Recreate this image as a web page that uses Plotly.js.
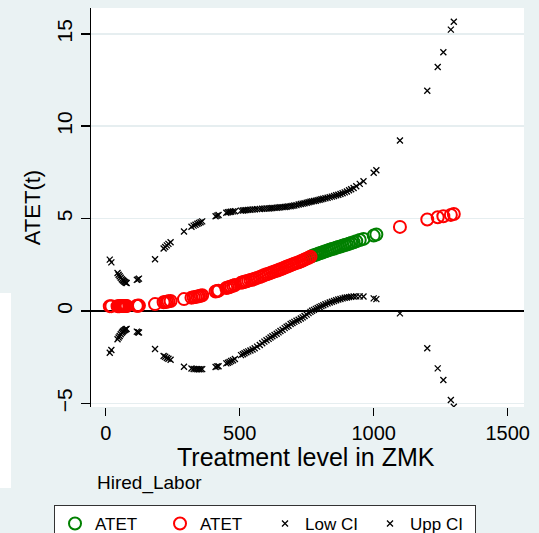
<!DOCTYPE html>
<html>
<head>
<meta charset="utf-8">
<script src="https://cdn.plot.ly/plotly-3.0.1.min.js"></script>
<style>html,body{margin:0;padding:0;background:#eaf2f3;}#chart{width:539px;height:533px;}</style>
</head>
<body>
<div id="chart"></div>
<script>
// Treatment levels (ZMK)
const treat = [15,21,44,48,52,56,60,63,66,69,72,75,78,116,120,124,184,216,222,228,234,242,292,
  320,328,335,342,348,354,360,410,416,421,450,456,462,468,475,482,505,512,518,525,532,540,548,556,
  565,575,584,592,600,608,615,622,630,638,645,652,660,668,675,682,690,697,704,712,720,728,735,742,750,757,764,
  770,777,784,791,798,805,812,820,828,836,844,852,860,868,876,884,892,900,908,916,925,935,948,962,1000,1010,
  1098,1200,1239,1260,1288,1299];
// ATET(t)
const atet = [0.26,0.26,0.26,0.26,0.26,0.27,0.27,0.27,0.27,0.27,0.27,0.27,0.27,0.28,0.28,0.29,0.37,0.47,0.49,0.50,0.52,0.54,0.64,
  0.72,0.74,0.76,0.78,0.80,0.82,0.85,1.05,1.08,1.10,1.24,1.27,1.30,1.33,1.36,1.40,1.52,1.55,1.58,1.61,1.64,1.67,1.70,1.74,
  1.79,1.84,1.89,1.94,1.98,2.02,2.06,2.10,2.14,2.18,2.22,2.26,2.30,2.35,2.39,2.43,2.48,2.52,2.56,2.60,2.64,2.69,2.73,2.78,2.83,2.88,2.93,
  2.97,3.01,3.04,3.08,3.12,3.15,3.19,3.23,3.27,3.31,3.35,3.38,3.42,3.46,3.49,3.53,3.57,3.60,3.64,3.68,3.72,3.77,3.84,3.90,4.08,4.14,
  4.55,4.95,5.07,5.13,5.20,5.25];
// Lower confidence limit
const lowCI = [-2.26,-2.11,-1.53,-1.44,-1.36,-1.26,-1.18,-1.13,-1.09,-1.05,-1.02,-0.99,-0.97,-1.12,-1.15,-1.17,-2.06,-2.44,-2.48,-2.55,-2.59,-2.64,-3.02,
  -3.12,-3.14,-3.15,-3.16,-3.16,-3.16,-3.15,-3.03,-3.00,-2.99,-2.84,-2.80,-2.76,-2.71,-2.67,-2.60,-2.39,-2.34,-2.29,-2.24,-2.19,-2.14,-2.09,-2.02,
  -1.93,-1.84,-1.75,-1.66,-1.59,-1.51,-1.44,-1.37,-1.30,-1.23,-1.16,-1.09,-1.02,-0.93,-0.86,-0.80,-0.71,-0.65,-0.59,-0.53,-0.48,-0.41,-0.35,-0.27,-0.20,-0.12,-0.05,
  0.01,0.06,0.11,0.16,0.21,0.26,0.31,0.36,0.41,0.46,0.50,0.54,0.58,0.62,0.65,0.68,0.71,0.73,0.75,0.77,0.78,0.79,0.79,0.78,0.68,0.64,
  -0.13,-2.02,-3.11,-3.74,-4.82,-5.19];
// Upper confidence limit
const uppCI = [2.78,2.63,2.05,1.96,1.88,1.80,1.72,1.67,1.63,1.59,1.56,1.53,1.51,1.68,1.71,1.75,2.80,3.38,3.46,3.55,3.63,3.72,4.30,
  4.56,4.62,4.67,4.72,4.76,4.80,4.85,5.13,5.16,5.19,5.32,5.34,5.36,5.37,5.39,5.40,5.43,5.44,5.45,5.46,5.47,5.48,5.49,5.50,
  5.51,5.52,5.53,5.54,5.55,5.55,5.56,5.57,5.58,5.59,5.60,5.61,5.62,5.63,5.64,5.66,5.67,5.69,5.71,5.73,5.76,5.79,5.81,5.83,5.86,5.88,5.91,
  5.93,5.95,5.97,6.00,6.02,6.05,6.07,6.10,6.13,6.16,6.19,6.22,6.26,6.29,6.33,6.37,6.42,6.47,6.53,6.59,6.66,6.75,6.88,7.02,7.48,7.62,
  9.23,11.92,13.21,14.00,15.23,15.66];

const legendNames = ['ATET', 'ATET', 'Low CI', 'Upp CI'];
const xTicks = [0, 500, 1000, 1500];
const yTicks = [-5, 0, 5, 10, 15];
const xTitle = 'Treatment level in ZMK';
const yTitle = 'ATET(t)';
const note = 'Hired_Labor';

const sigX = [], sigY = [], insX = [], insY = [];
treat.forEach((t, i) => {
  if (lowCI[i] > 0) { sigX.push(t); sigY.push(atet[i]); }
  else { insX.push(t); insY.push(atet[i]); }
});

const FONT = 'Arial, "Liberation Sans", sans-serif';
const circ = c => ({symbol: 'circle-open', size: 12, color: c, line: {color: c, width: 2}});
const cross = {symbol: 'x-thin-open', size: 6, color: '#000', line: {color: '#000', width: 1.3}};

const traces = [
  {x: sigX, y: sigY, type: 'scatter', mode: 'markers', name: legendNames[0], marker: circ('#008000')},
  {x: insX, y: insY, type: 'scatter', mode: 'markers', name: legendNames[1], marker: circ('#ff0000')},
  {x: treat, y: lowCI, type: 'scatter', mode: 'markers', name: legendNames[2], marker: cross},
  {x: treat, y: uppCI, type: 'scatter', mode: 'markers', name: legendNames[3], marker: cross}
];

const layout = {
  width: 539, height: 533,
  margin: {l: 91, r: 15, t: 8, b: 126},
  paper_bgcolor: '#eaf2f3',
  plot_bgcolor: '#ffffff',
  font: {family: FONT, color: '#000'},
  xaxis: {
    range: [-55, 1561], tickvals: xTicks, ticks: 'outside', ticklen: 8, tickwidth: 1.5, tickcolor: '#000',
    showline: false, showgrid: false, zeroline: false, automargin: false,
    tickfont: {size: 20, family: FONT, color: '#000'}
  },
  yaxis: {
    range: [-5.2, 16.4], tickvals: yTicks, ticks: 'outside', ticklen: 9, tickwidth: 1.5, tickcolor: '#000',
    showline: true, linecolor: '#000', linewidth: 1.5, automargin: false,
    showgrid: true, gridcolor: '#e6eef0', gridwidth: 1.5,
    zeroline: true, zerolinecolor: '#000', zerolinewidth: 2,
    tickangle: -90,
    tickfont: {size: 21, family: FONT, color: '#000'},
    title: {text: yTitle, font: {size: 22, family: FONT, color: '#000'}, standoff: 6}
  },
  showlegend: true,
  legend: {
    orientation: 'h', xref: 'container', yref: 'container',
    x: 0.1002, xanchor: 'left', y: 0.0525, yanchor: 'top',
    bgcolor: '#ffffff', bordercolor: '#333333', borderwidth: 1,
    font: {size: 17, family: FONT, color: '#000'},
    entrywidth: 60, itemsizing: 'trace'
  },
  annotations: [
    {
      text: xTitle, xref: 'paper', yref: 'paper', x: 0.497, y: -0.1265,
      xanchor: 'center', yanchor: 'middle', showarrow: false,
      font: {size: 25, family: FONT, color: '#000'}
    },
    {
      text: note, xref: 'paper', yref: 'paper', x: 0.009, y: -0.19,
      xanchor: 'left', yanchor: 'middle', showarrow: false,
      font: {size: 19, family: FONT, color: '#000'}
    }
  ],
  shapes: [{
    type: 'rect', xref: 'paper', yref: 'paper', x0: -0.2102, x1: -0.1848, y0: -0.203, y1: 0.2857,
    fillcolor: '#ffffff', line: {width: 0}, layer: 'below'
  }]
};

Plotly.newPlot('chart', traces, layout, {displayModeBar: false, staticPlot: true});
</script>
</body>
</html>
